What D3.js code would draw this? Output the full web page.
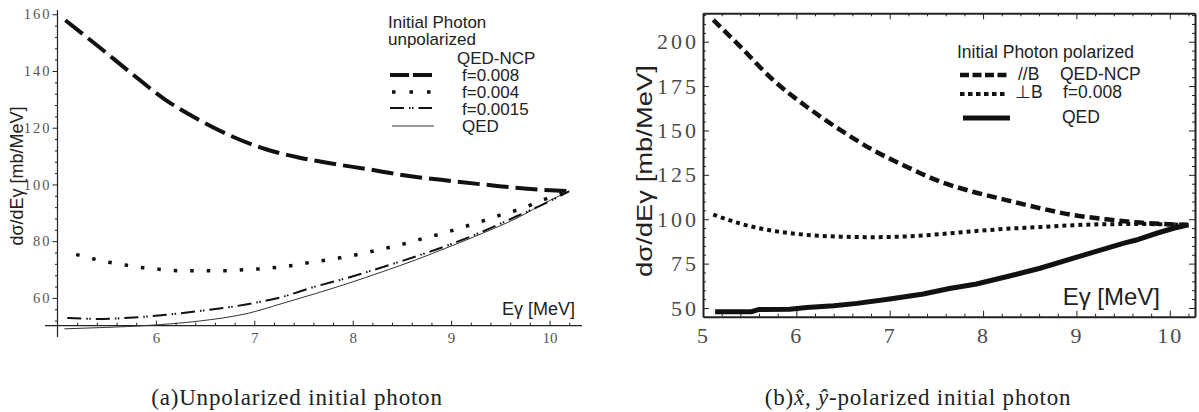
<!DOCTYPE html>
<html>
<head>
<meta charset="utf-8">
<script src="https://cdn.jsdelivr.net/npm/d3@7"></script>
<style>
  body { margin: 0; background: white; }
</style>
</head>
<body>
<div id="viz_area"></div>
<script>
var width = 1199
var height = 412

// ---- panel (a): unpolarized initial photon
var aNcp008E = [5.08, 5.41, 5.74, 6.09, 6.43, 6.77, 7.11, 7.45, 7.8, 8.13, 8.59, 9.01, 9.49, 9.88, 10.2]
var aNcp008 = [157.9, 148.8, 139.5, 130.0, 122.9, 117.0, 112.5, 109.5, 107.3, 105.5, 102.9, 101.2, 99.4, 98.2, 97.6]
var aNcp004E = [5.19, 5.36, 5.52, 5.69, 5.85, 6.07, 6.24, 6.41, 6.58, 6.75, 6.92, 7.09, 7.26, 7.42, 7.58, 7.76,
  7.93, 8.09, 8.25, 8.42, 8.58, 8.74, 8.91, 9.07, 9.23, 9.39, 9.55, 9.71, 9.86, 10.02, 10.2]
var aNcp004 = [75.3, 73.8, 72.6, 71.6, 70.7, 70.0, 69.6, 69.6, 69.6, 69.6, 70.0, 70.3, 70.9, 71.6, 72.6, 73.5,
  74.5, 75.6, 76.8, 78.2, 79.6, 81.2, 82.7, 84.4, 86.1, 87.9, 89.8, 91.4, 93.5, 95.6, 97.6]
var aNcp0015E = [5.1, 5.4, 5.9, 6.4, 6.9, 7.3, 7.6, 7.96, 8.3, 8.64, 8.98, 9.32, 9.66, 9.93, 10.2]
var aNcp0015 = [52.9, 52.6, 53.4, 55.2, 57.6, 60.5, 63.8, 67.2, 70.8, 74.6, 78.7, 83.4, 88.7, 92.9, 97.6]
var aQedE = [5.07, 5.5, 5.92, 6.43, 6.94, 7.28, 7.62, 7.96, 8.3, 8.64, 8.98, 9.32, 9.66, 10.0, 10.2]
var aQed = [49.1, 49.6, 50.3, 51.8, 54.6, 58.0, 61.5, 65.2, 69.2, 73.4, 78.0, 82.8, 88.0, 94.3, 97.6]

var xTicksA = [6, 7, 8, 9, 10]
var yTicksA = [60, 80, 100, 120, 140, 160]

// ---- panel (b): x, y polarized initial photon
var bParE = [5.11, 5.40, 5.75, 6.11, 6.47, 6.82, 7.18, 7.54, 7.89, 8.25, 8.61, 8.96, 9.32, 9.68, 10.2]
var bPar = [212.3, 197.2, 178.5, 163.4, 150.3, 139.0, 129.6, 121.2, 115.5, 110.8, 106.2, 102.4, 100.0, 98.1, 96.8]
var bPerpE = [5.11, 5.40, 5.75, 6.11, 6.47, 6.82, 7.18, 7.54, 7.89, 8.25, 8.61, 8.96, 9.32, 9.68, 10.2]
var bPerp = [102.6, 97.5, 93.5, 91.2, 90.2, 89.9, 90.3, 91.6, 93.2, 94.6, 95.6, 96.6, 97.2, 97.3, 96.8]
var bQedE = [5.13, 5.52, 5.6, 5.93, 6.11, 6.4, 6.65, 7.0, 7.36, 7.64, 7.93, 8.25, 8.61, 8.96, 9.32, 9.5, 9.64, 9.86, 10.04, 10.2]
var bQed = [47.9, 47.9, 49.2, 49.3, 50.3, 51.3, 52.6, 55.1, 57.9, 61.0, 63.5, 67.6, 72.4, 78.0, 83.6, 86.4, 88.3, 92.1, 94.9, 96.8]

var xTicksB = [5, 6, 7, 8, 9, 10]
var yTicksB = [50, 75, 100, 125, 150, 175, 200]

var serif = "'Liberation Serif', 'Times New Roman', serif"
var sans = "'Liberation Sans', Arial, sans-serif"

var svg = d3.select("#viz_area")
  .append("svg")
  .attr("width", width)
  .attr("height", height)
  .style("display", "block")
  .style("background-color", "white");

var scXa = d3.scaleLinear().domain([5, 10.33]).range([57.5, 582])
var scYa = d3.scaleLinear().domain([50.2, 161.5]).range([325.7, 10])
var scXb = d3.scaleLinear().domain([5, 10.27]).range([703, 1195])
var scYb = d3.scaleLinear().domain([45.1, 216]).range([316.7, 13.3])

var fmt = d3.format("d")

function minors(lo, hi, step, majors) {
  let out = []
  for (let v = lo; v <= hi + 1e-9; v += step) {
    let r = Math.round(v * 100) / 100
    if (majors.indexOf(r) < 0) out.push(r)
  }
  return out
}

function styleAxis(g, size, color, spacing) {
  g.attr("font-family", serif)
  g.selectAll("line").attr("stroke", "#222")
  g.selectAll("text")
    .style("font-family", serif)
    .style("font-size", size)
    .style("letter-spacing", spacing)
    .attr("fill", color)
  g.select(".domain").attr("stroke", "#222")
}

function minorTicks(parent, axis, tx, ty) {
  parent.append("g")
    .attr("transform", `translate(${tx},${ty})`)
    .call(axis.tickFormat(""))
    .call(g => g.select(".domain").remove())
    .call(g => g.selectAll("line").attr("stroke", "#222"))
}

// ---------- panel (a) axes
var gA = svg.append("g")

gA.append("g")
  .attr("transform", "translate(57.5,0)")
  .call(d3.axisLeft(scYa).tickValues(yTicksA).tickFormat(fmt).tickSizeInner(5).tickSizeOuter(0).tickPadding(1))
  .call(g => styleAxis(g, "14.5px", "#555", "2px"))
  .call(g => g.select(".domain").attr("d", "M0,10V337").attr("stroke-width", 1.2))

minorTicks(gA, d3.axisLeft(scYa).tickValues(minors(52, 160, 4, yTicksA)).tickSize(2.5), 57.5, 0)

gA.append("g")
  .attr("transform", "translate(0,325.7)")
  .call(d3.axisBottom(scXa).tickValues(xTicksA).tickFormat(fmt).tickSizeInner(-5).tickSizeOuter(0).tickPadding(6.5))
  .call(g => styleAxis(g, "15px", "#555", "0px"))
  .call(g => g.select(".domain").attr("d", "M45,0H582").attr("stroke-width", 1.2))

minorTicks(gA, d3.axisBottom(scXa).tickValues(minors(5.2, 10.2, 0.2, xTicksA)).tickSize(-3), 0, 325.7)

// ---------- panel (b) axes (full frame)
var gB = svg.append("g")

gB.append("g")
  .attr("transform", "translate(703,0)")
  .call(d3.axisLeft(scYb).tickValues(yTicksB).tickFormat(fmt).tickSizeInner(-6).tickSizeOuter(0).tickPadding(4))
  .call(g => styleAxis(g, "22px", "#4a4a4a", "3px"))
  .call(g => g.select(".domain").attr("stroke-width", 2))

minorTicks(gB, d3.axisLeft(scYb).tickValues(minors(55, 215, 5, yTicksB)).tickSize(-3), 703, 0)

gB.append("g")
  .attr("transform", "translate(1195,0)")
  .call(d3.axisRight(scYb).tickValues(yTicksB).tickSizeInner(-6).tickSizeOuter(0).tickFormat(""))
  .call(g => g.selectAll("line").attr("stroke", "#222"))
  .call(g => g.select(".domain").attr("stroke", "#222").attr("stroke-width", 2))

minorTicks(gB, d3.axisRight(scYb).tickValues(minors(55, 215, 5, yTicksB)).tickSize(-3), 1195, 0)

gB.append("g")
  .attr("transform", "translate(0,316.7)")
  .call(d3.axisBottom(scXb).tickValues(xTicksB).tickFormat(fmt).tickSizeInner(-6).tickSizeOuter(0).tickPadding(10.5))
  .call(g => styleAxis(g, "22px", "#4a4a4a", "2px"))
  .call(g => g.select(".domain").attr("stroke-width", 2))

minorTicks(gB, d3.axisBottom(scXb).tickValues(minors(5.2, 10.2, 0.2, xTicksB)).tickSize(-3), 0, 316.7)

gB.append("g")
  .attr("transform", "translate(0,13.3)")
  .call(d3.axisTop(scXb).tickValues(xTicksB).tickSizeInner(-6).tickSizeOuter(0).tickFormat(""))
  .call(g => g.selectAll("line").attr("stroke", "#222"))
  .call(g => g.select(".domain").attr("stroke", "#222").attr("stroke-width", 2))

minorTicks(gB, d3.axisTop(scXb).tickValues(minors(5.2, 10.2, 0.2, xTicksB)).tickSize(-3), 0, 13.3)

// ---------- curves
function drawCurve(sx, sy, E, v, stroke, sw, dash, curve) {
  var line = d3.line()
    .curve(curve || d3.curveMonotoneX)
    .x(d => sx(d[0]))
    .y(d => sy(d[1]))
  svg.append("path")
    .datum(d3.zip(E, v))
    .attr("fill", "none")
    .attr("stroke", stroke)
    .attr("stroke-width", sw)
    .attr("stroke-dasharray", dash)
    .attr("d", line)
}

drawCurve(scXa, scYa, aQedE, aQed, "#333", 1, null)
drawCurve(scXa, scYa, aNcp0015E, aNcp0015, "#111", 2, "14 5 1.5 1.5 1.5 5")
drawCurve(scXa, scYa, aNcp004E, aNcp004, "#111", 3.5, "3.5 13")
drawCurve(scXa, scYa, aNcp008E, aNcp008, "#111", 4, "22 7")

drawCurve(scXb, scYb, bQedE, bQed, "#111", 5, null, d3.curveLinear)
drawCurve(scXb, scYb, bPerpE, bPerp, "#111", 4, "4 4")
drawCurve(scXb, scYb, bParE, bPar, "#111", 4.5, "10 5")

// ---------- legends
function legendLine(x1, x2, y, sw, dash, stroke) {
  svg.append("line")
    .attr("x1", x1).attr("x2", x2).attr("y1", y).attr("y2", y)
    .attr("stroke", stroke || "#111")
    .attr("stroke-width", sw)
    .attr("stroke-dasharray", dash)
}

function label(x, y, txt, size) {
  return svg.append("text")
    .attr("x", x).attr("y", y)
    .style("font-family", sans)
    .style("font-size", size)
    .attr("fill", "#222")
    .text(txt)
}

label(388, 28, "Initial Photon", "17px")
label(388, 45, "unpolarized", "17px")
label(457, 64, "QED-NCP", "17px")
label(462, 81, "f=0.008", "17px")
label(462, 98, "f=0.004", "17px")
label(462, 115, "f=0.0015", "17px")
label(462, 132, "QED", "17px")
legendLine(390, 432, 75, 4, "19 4")
legendLine(392, 431, 92, 3.5, "3.5 14")
legendLine(390, 432, 108, 2, "14 5 1.5 1.5 1.5 5")
legendLine(392, 434, 126, 1, null, "#333")

label(957, 58, "Initial Photon polarized", "17.5px")
label(1018, 80, "//B", "17.5px")
label(1060, 80, "QED-NCP", "17.5px")
label(1015, 98, "\u22A5B", "17.5px")
label(1063, 98, "f=0.008", "17.5px")
label(1062, 123, "QED", "17.5px")
legendLine(960, 1007, 75, 4.5, "9 3.5")
legendLine(960, 1007, 94, 4, "4.5 3.5")
legendLine(963, 1010, 118, 5, null)

// ---------- axis titles
label(575, 315, "E\u03B3 [MeV]", "18px").attr("text-anchor", "end")
label(1160, 305, "E\u03B3 [MeV]", "24px").attr("text-anchor", "end")

label(0, 0, "d\u03C3/dE\u03B3 [mb/MeV]", "18px")
  .attr("text-anchor", "middle")
  .attr("transform", "translate(23,176) rotate(-90)")

label(0, 0, "d\u03C3/dE\u03B3 [mb/MeV]", "22px")
  .attr("text-anchor", "middle")
  .attr("textLength", 212)
  .attr("lengthAdjust", "spacingAndGlyphs")
  .attr("transform", "translate(652,171) rotate(-90)")

// ---------- captions
function caption(cx, y) {
  return svg.append("text")
    .attr("x", cx).attr("y", y)
    .attr("text-anchor", "middle")
    .style("font-family", serif)
    .style("font-size", "23px")
    .style("letter-spacing", "0.8px")
    .attr("fill", "#222")
}

caption(297, 405).text("(a)Unpolarized initial photon")

var capB = caption(918, 405)
capB.append("tspan").text("(b)")
capB.append("tspan").style("font-style", "italic").text("x\u0302")
capB.append("tspan").text(", ")
capB.append("tspan").style("font-style", "italic").text("y\u0302")
capB.append("tspan").text("-polarized initial photon")
</script>
</body>
</html>
